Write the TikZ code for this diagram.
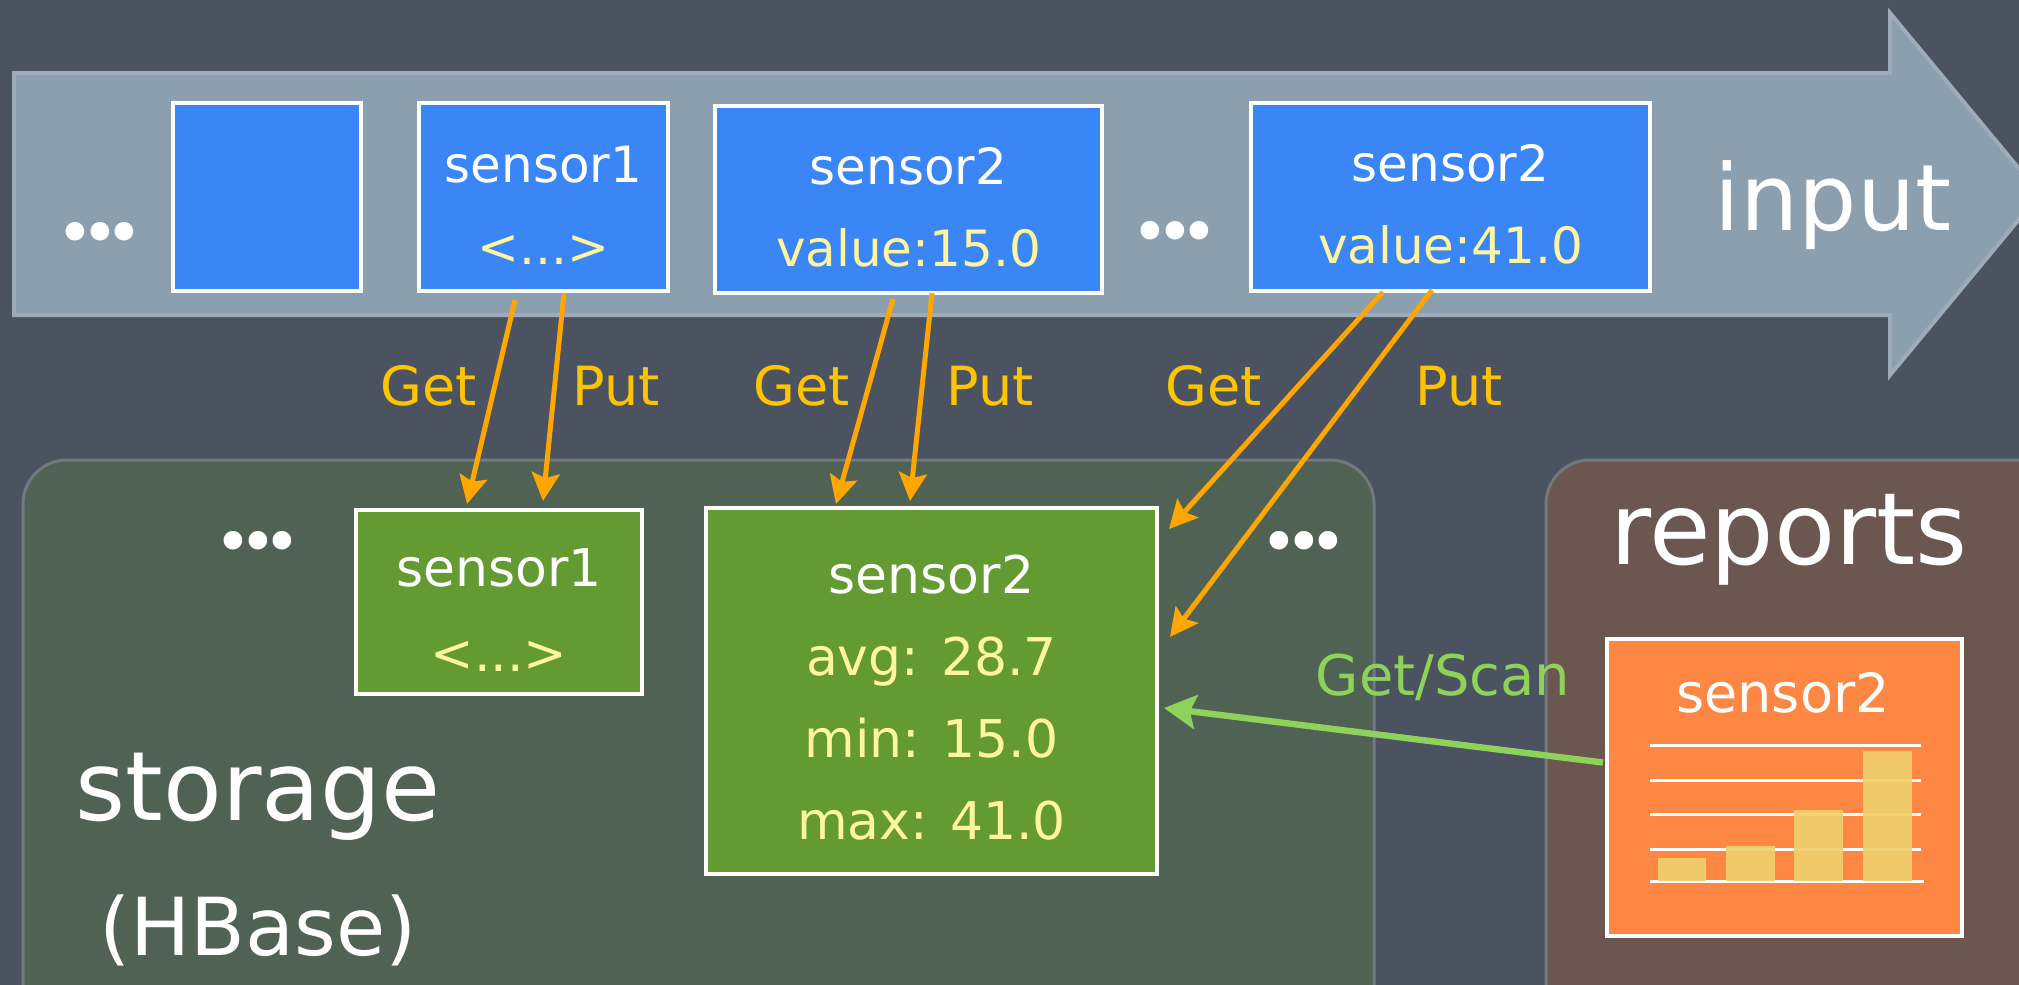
\documentclass[tikz,border=0pt]{standalone}
\usepackage{fontspec}
\setmainfont{DejaVu Sans}
\usetikzlibrary{arrows.meta,calc}

\definecolor{board}{RGB}{76,83,96}
\definecolor{band}{RGB}{139,159,175}
\definecolor{bandedge}{RGB}{158,171,184}
\definecolor{rowblue}{RGB}{59,134,247}
\definecolor{rowgreen}{RGB}{100,154,50}
\definecolor{storefill}{RGB}{80,98,84}
\definecolor{reportfill}{RGB}{107,86,80}
\definecolor{paneledge}{RGB}{112,120,128}
\definecolor{sheet}{RGB}{255,135,68}
\definecolor{barfill}{RGB}{239,208,110}
\definecolor{valtext}{RGB}{255,245,160}
\definecolor{opcolor}{RGB}{255,166,0}
\definecolor{oplabel}{RGB}{255,196,0}
\definecolor{scancolor}{RGB}{142,210,90}

% three round dots
\newcommand{\tridots}{\textbullet\kern-6.5pt\textbullet\kern-6.5pt\textbullet}
% invisible strut that lowers a centred text block
\newcommand{\lowerby}[1]{\rule{0pt}{#1}}

\begin{document}
\begin{tikzpicture}[x=0.5pt,y=-0.5pt,
  cell/.style={draw=white,line width=2pt,inner sep=0pt,align=center,text=white,
    font=\fontsize{25}{41}\selectfont},
  bluecell/.style={cell,fill=rowblue},
  greencell/.style={cell,fill=rowgreen},
  panel/.style={draw=paneledge,line width=1.5pt,rounded corners=22pt},
  title/.style={text=white,inner sep=0pt},
  dots/.style={text=white,inner sep=0pt,font=\fontsize{32}{32}\selectfont},
  oplbl/.style={text=oplabel,inner sep=0pt,font=\fontsize{27}{27}\selectfont},
  op/.style={draw=opcolor,line width=2.5pt,-{Stealth[length=14pt,width=14pt,inset=2.5pt]}},
  scan/.style={draw=scancolor,line width=3.2pt,-{Stealth[length=16pt,width=17pt,inset=3pt]}},
]
\useasboundingbox (0,0) rectangle (2019,985);
\clip (0,0) rectangle (2019,985);
\fill[board] (0,0) rectangle (2019,985);

% input stream arrow
\draw[fill=band,draw=bandedge,line width=2pt]
  (14,73) -- (1890,73) -- (1890,13) -- (2040,194) -- (1890,375)
  -- (1890,315) -- (14,315) -- cycle;

% storage and report panels
\node[panel,fill=storefill,minimum width=675.5pt,minimum height=290pt] (store) at (698.5,750) {};
\node[panel,fill=reportfill,minimum width=262pt,minimum height=290pt] (rep) at (1808,750) {};

% incoming records
\node[dots] (d1) at (100,239) {\tridots};
\node[bluecell,minimum width=94pt,minimum height=94pt] (b0) at (267,197) {};
\node[bluecell,minimum width=124.5pt,minimum height=94pt] (b1) at (543.5,197)
  {\lowerby{26pt}sensor1\\\textcolor{valtext}{<...>}};
\node[bluecell,minimum width=193.5pt,minimum height=93.5pt] (b2) at (908.5,199.5)
  {\lowerby{26pt}sensor2\\\textcolor{valtext}{value:15.0}};
\node[dots] (d2) at (1175,238) {\tridots};
\node[bluecell,minimum width=199.5pt,minimum height=94pt] (b3) at (1450.5,197)
  {\lowerby{26pt}sensor2\\\textcolor{valtext}{value:41.0}};
\node[title,font=\fontsize{46}{46}\selectfont,anchor=base] (inp) at (1833,230) {input};

% stored rows
\node[dots] (d3) at (258,548) {\tridots};
\node[greencell,minimum width=143pt,minimum height=92pt,font=\fontsize{26}{42.5}\selectfont] (g1) at (499,602)
  {\lowerby{27pt}sensor1\\\textcolor{valtext}{<...>}};
\node[greencell,minimum width=225.5pt,minimum height=183pt,font=\fontsize{26}{41}\selectfont] (g2) at (931.5,691)
  {\lowerby{26pt}sensor2\\\textcolor{valtext}{avg: 28.7}\\\textcolor{valtext}{min: 15.0}\\\textcolor{valtext}{max: 41.0}};
\node[dots] (d4) at (1304,548) {\tridots};
\node[title,font=\fontsize{48}{48}\selectfont,anchor=base] (st) at (258,820) {storage};
\node[title,font=\fontsize{40}{40}\selectfont,anchor=base] (hb) at (258,955) {(HBase)};

% report sheet
\node[title,font=\fontsize{50}{50}\selectfont,anchor=base] (rt) at (1789,564) {reports};
\node[draw=white,line width=2pt,fill=sheet,minimum width=177.5pt,minimum height=148.5pt] (sheet) at (1784.5,787.5) {};
\node[title,font=\fontsize{27}{27}\selectfont] (sh) at (1783,693) {sensor2};
\foreach \yy in {745,780,814,849}
  \draw[white,line width=1.5pt] (1650,\yy) -- (1921,\yy);
\draw[white,line width=1.5pt] (1650,881) -- (1924,881);
\fill[barfill,opacity=0.92] (1658,858) rectangle (1706,881);
\fill[barfill,opacity=0.92] (1726,846) rectangle (1775,881);
\fill[barfill,opacity=0.92] (1794,810) rectangle (1843,881);
\fill[barfill,opacity=0.92] (1863,751) rectangle (1912,881);

% get / put requests
\draw[op] ($(b1.south)+(-28.5,7)$) -- ($(g1.north)+(-32,-4)$);
\draw[op] ($(b1.south)+(20.5,0)$) -- ($(g1.north)+(44,-7)$);
\draw[op] ($(b2.south)+(-15.5,4)$) -- ($(g2.north)+(-95.5,-2)$);
\draw[op] ($(b2.south)+(23.5,-2)$) -- ($(g2.north)+(-21.5,-5)$);
\draw[op] ($(b3.south)+(-67.5,-1)$) -- ($(g2.north east)+(10,23)$);
\draw[op] ($(b3.south)+(-18.5,-3)$) -- ($(g2.north east)+(11,131)$);
\node[oplbl] (l1) at (429,386) {Get};
\node[oplbl] (l2) at (616,386) {Put};
\node[oplbl] (l3) at (802,386) {Get};
\node[oplbl] (l4) at (990,386) {Put};
\node[oplbl] (l5) at (1214,386) {Get};
\node[oplbl] (l6) at (1459,386) {Put};

% report query
\draw[scan] ($(sheet.west)+(-2,-25)$) -- ($(g2.east)+(5,17)$);
\node[text=scancolor,inner sep=0pt,font=\fontsize{28}{28}\selectfont] (sc) at (1443,677) {Get/Scan};
\end{tikzpicture}
\end{document}
